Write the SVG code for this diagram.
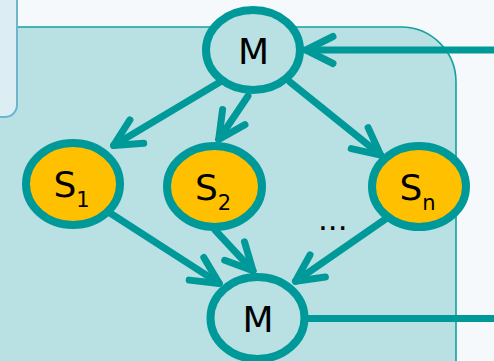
<svg xmlns="http://www.w3.org/2000/svg" width="494" height="361" viewBox="0 0 494 361">
<style>
.edge{fill:none;stroke:#009999;stroke-width:7;stroke-linecap:round;stroke-linejoin:round}
.node{stroke:#009999;stroke-width:8}
.m{fill:#b9e0e3}
.s{fill:#ffc000}
.t{font-family:"DejaVu Sans",Verdana,sans-serif;font-size:36px;fill:#000}
.sub{font-size:21px}
</style>
<defs>
<marker id="ah" markerUnits="userSpaceOnUse" markerWidth="60" markerHeight="60" refX="0" refY="0" orient="auto" overflow="visible" viewBox="-40 -30 60 60">
<path d="M-27,-13.5 L0,0 L-27,13.5" fill="none" stroke="#009999" stroke-width="7" stroke-linecap="round" stroke-linejoin="round"/>
</marker>
</defs>
<rect x="0" y="0" width="494" height="361" fill="#f6f9fb"/>
<path d="M-10,27 L401,27 A55,55 0 0 1 456,82 L456,372 L-10,372 Z" fill="#b9e0e3" stroke="#14a0a0" stroke-width="1.6"/>
<path d="M-10,-10 L17,-10 L17,105 A12,12 0 0 1 5,117 L-10,117 Z" fill="#dcedf3" stroke="#6cb6cd" stroke-width="2"/>
<g id="connectors">
<path class="edge" d="M494,50 L306,50" marker-end="url(#ah)"/>
<path class="edge" d="M220,82 L113.6,145.4" marker-end="url(#ah)"/>
<path class="edge" d="M248,96 L218.7,139.5" marker-end="url(#ah)"/>
<path class="edge" d="M290,82 L380.7,155.1" marker-end="url(#ah)"/>
<path class="edge" d="M110,213 L219.2,283.4" marker-end="url(#ah)"/>
<path class="edge" d="M215,230 L253,270.8" marker-end="url(#ah)"/>
<path class="edge" d="M387,218 L295.5,281.3" marker-end="url(#ah)"/>
<path class="edge" d="M305,318.5 L494,318.5"/>
</g>
<g id="node-m-top">
<ellipse class="node m" cx="253" cy="50" rx="47" ry="40"/>
<text class="t" x="253.5" y="64" text-anchor="middle">M</text>
</g>
<g id="node-s1">
<ellipse class="node s" cx="73" cy="184" rx="47" ry="41"/>
<text class="t" x="53.5" y="197">S<tspan class="sub" dy="10">1</tspan></text>
</g>
<g id="node-s2">
<ellipse class="node s" cx="214.5" cy="186.5" rx="47.5" ry="40.5"/>
<text class="t" x="195" y="200">S<tspan class="sub" dy="10">2</tspan></text>
</g>
<g id="node-sn">
<ellipse class="node s" cx="419" cy="186.5" rx="47" ry="40.5"/>
<text class="t" x="399.5" y="200">S<tspan class="sub" dy="10">n</tspan></text>
</g>
<g id="node-m-bottom">
<ellipse class="node m" cx="257.5" cy="318" rx="47" ry="41"/>
<text class="t" x="258" y="332" text-anchor="middle">M</text>
</g>
<text class="t" x="318" y="230" style="font-size:31px">...</text>
</svg>
